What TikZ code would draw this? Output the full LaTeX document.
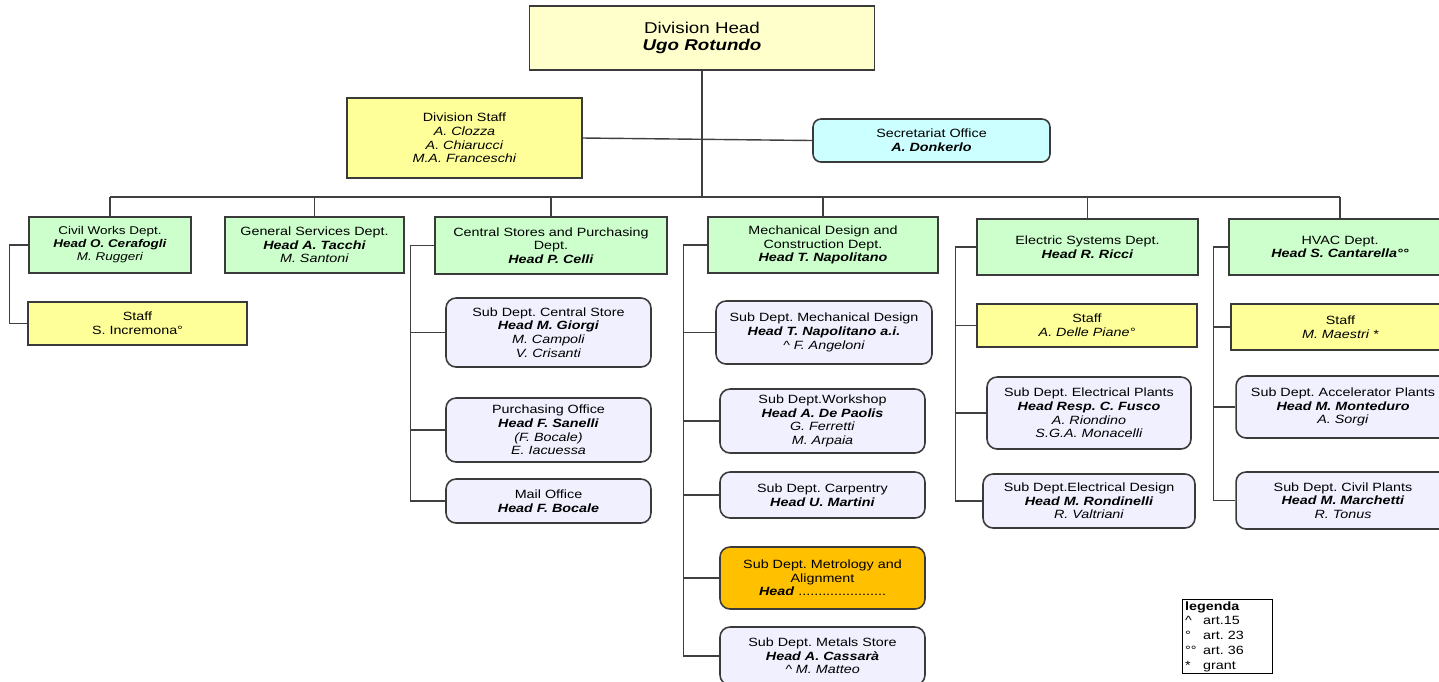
\documentclass[tikz,border=0pt]{standalone}
\usepackage{fontspec}
\setmainfont{Liberation Sans}[FakeStretch=1.2]
\frenchspacing
\definecolor{headyellow}{HTML}{FFFFCC}
\definecolor{staffyellow}{HTML}{FFFF99}
\definecolor{deptgreen}{HTML}{CCFFCC}
\definecolor{secrcyan}{HTML}{CCFFFF}
\definecolor{sublilac}{HTML}{F0F0FF}
\definecolor{metroorange}{HTML}{FFC000}
\definecolor{boxline}{HTML}{3A3A3A}
\definecolor{linegray}{HTML}{404040}
\newcommand{\headname}[1]{\textbf{\textit{#1}}}

\begin{document}
\begin{tikzpicture}[x=0.02cm, y=-0.02cm,
  box/.style={draw=boxline, line width=0.9pt, align=center, inner sep=0pt, font=\fontsize{6.8}{7.8}\selectfont},
  headbox/.style={box, fill=headyellow, font=\fontsize{8.9}{9.2}\selectfont},
  staffbox/.style={box, fill=staffyellow},
  deptbox/.style={box, fill=deptgreen},
  secrbox/.style={box, fill=secrcyan, rounded corners=0.16cm},
  subbox/.style={box, fill=sublilac, rounded corners=0.2cm},
  openbox/.style={box, fill=metroorange, rounded corners=0.2cm},
  link/.style={draw=linegray, line width=0.8pt}]
\useasboundingbox (0,0) rectangle (1439,681);
\clip (0,0) rectangle (1439,681);

% top of the division
\node[headbox, minimum width=6.9cm, minimum height=1.28cm] (head) at (702,38) {Division Head\\ \headname{Ugo Rotundo}};
\node[staffbox, minimum width=4.7cm, minimum height=1.6cm] (divstaff) at (464.5,138) {Division Staff\\ \textit{A. Clozza}\\ \textit{A. Chiarucci}\\ \textit{M.A. Franceschi}};
\node[secrbox, minimum width=4.74cm, minimum height=0.86cm] (secretariat) at (931.5,140.5) {Secretariat Office\\ \headname{A. Donkerlo}};

% departments
\node[deptbox, minimum width=3.24cm, minimum height=1.12cm, font=\fontsize{6.4}{7.4}\selectfont] (civil) at (110,245) {Civil Works Dept.\\ \headname{Head O. Cerafogli}\\ \textit{M. Ruggeri}};
\node[deptbox, minimum width=3.58cm, minimum height=1.12cm] (general) at (314.5,245) {General Services Dept.\\ \headname{Head A. Tacchi}\\ \textit{M. Santoni}};
\node[deptbox, minimum width=4.64cm, minimum height=1.14cm] (central) at (551,245.5) {Central Stores and Purchasing\\ Dept.\\ \headname{Head P. Celli}};
\node[deptbox, minimum width=4.6cm, minimum height=1.12cm] (mech) at (823,245) {Mechanical Design and\\ Construction Dept.\\ \headname{Head T. Napolitano}};
\node[deptbox, minimum width=4.42cm, minimum height=1.12cm] (electric) at (1087.5,247) {Electric Systems Dept.\\ \headname{Head R. Ricci}};
\node[deptbox, minimum width=4.44cm, minimum height=1.12cm] (hvac) at (1340,247) {HVAC Dept.\\ \headname{Head S. Cantarella°°}};

% civil works
\node[staffbox, minimum width=4.38cm, minimum height=0.86cm] (civstaff) at (137.5,323.5) {Staff\\ S. Incremona°};

% central stores and purchasing
\node[subbox, minimum width=4.1cm, minimum height=1.38cm] (centralstore) at (548.5,332.5) {Sub Dept. Central Store\\ \headname{Head M. Giorgi}\\ \textit{M. Campoli}\\ \textit{V. Crisanti}};
\node[subbox, minimum width=4.1cm, minimum height=1.28cm] (purchasing) at (548.5,430) {Purchasing Office\\ \headname{Head F. Sanelli}\\ \textit{(F. Bocale)}\\ \textit{E. Iacuessa}};
\node[subbox, minimum width=4.1cm, minimum height=0.88cm] (mail) at (548.5,501) {Mail Office\\ \headname{Head F. Bocale}};

% mechanical design and construction
\node[subbox, minimum width=4.32cm, minimum height=1.26cm] (mechdesign) at (824,332.5) {Sub Dept. Mechanical Design\\ \headname{Head T. Napolitano a.i.}\\ \textit{\textasciicircum{} F. Angeloni}};
\node[subbox, minimum width=4.1cm, minimum height=1.28cm] (workshop) at (822.5,421) {Sub Dept.Workshop\\ \headname{Head A. De Paolis}\\ \textit{G. Ferretti}\\ \textit{M. Arpaia}};
\node[subbox, minimum width=4.1cm, minimum height=0.92cm] (carpentry) at (822.5,495) {Sub Dept. Carpentry\\ \headname{Head U. Martini}};
\node[openbox, minimum width=4.1cm, minimum height=1.24cm] (metrology) at (822.5,578) {Sub Dept. Metrology and\\ Alignment\\ \headname{Head} ......................};
\node[subbox, minimum width=4.1cm, minimum height=1.16cm] (metals) at (822.5,656) {Sub Dept. Metals Store\\ \headname{Head A. Cassarà}\\ \textit{\textasciicircum{} M. Matteo}};

% electric systems
\node[staffbox, minimum width=4.4cm, minimum height=0.86cm] (elecstaff) at (1087,325.5) {Staff\\ \textit{A. Delle Piane°}};
\node[subbox, minimum width=4.08cm, minimum height=1.44cm] (elecplants) at (1089,413) {Sub Dept. Electrical Plants\\ \headname{Head Resp. C. Fusco}\\ \textit{A. Riondino}\\ \textit{S.G.A. Monacelli}};
\node[subbox, minimum width=4.24cm, minimum height=1.08cm] (elecdesign) at (1089,501) {Sub Dept.Electrical Design\\ \headname{Head M. Rondinelli}\\ \textit{R. Valtriani}};

% hvac
\node[staffbox, minimum width=4.38cm, minimum height=0.92cm] (hvacstaff) at (1340.5,327) {Staff\\ \textit{M. Maestri *}};
\node[subbox, minimum width=4.28cm, minimum height=1.24cm] (accel) at (1343,407) {Sub Dept. Accelerator Plants\\ \headname{Head M. Monteduro}\\ \textit{A. Sorgi}};
\node[subbox, minimum width=4.28cm, minimum height=1.14cm] (civilplants) at (1343,500.5) {Sub Dept. Civil Plants\\ \headname{Head M. Marchetti}\\ \textit{R. Tonus}};

% legend
\node[draw=black, line width=0.8pt, anchor=north west, text width=1.7cm, inner xsep=0.05cm, inner ysep=1pt, align=left, font=\fontsize{6.8}{8.4}\selectfont] (legend) at (1182,599) {\textbf{legenda}\\ \makebox[0.36cm][l]{\textasciicircum}art.15\\ \makebox[0.36cm][l]{°}art. 23\\ \makebox[0.36cm][l]{°°}art. 36\\ \makebox[0.36cm][l]{*}grant};

% main bus
\coordinate (busL) at (110,197);
\coordinate (busR) at (1340,197);
\draw[link] (head.south) -- (head.south |- busL);
\draw[link] (busL) -- (busR);
\foreach \d in {civil,general,central,mech,electric,hvac}
  \draw[link] (\d.north) -- (\d.north |- busL);
\draw[link] (divstaff.east) -- (secretariat.west);

% branches
\draw[link] (civil.west) -- ++(-19,0) |- (civstaff.west);
\draw[link] (central.west) -- ++(-24,0) coordinate (csbar) |- (mail.west);
\foreach \s in {centralstore,purchasing}
  \draw[link] (csbar) |- (\s.west);
\draw[link] (mech.west) -- ++(-24,0) coordinate (mdbar) |- (metals.west);
\foreach \s in {mechdesign,workshop,carpentry,metrology}
  \draw[link] (mdbar) |- (\s.west);
\draw[link] (electric.west) -- ++(-21,0) coordinate (esbar) |- (elecdesign.west);
\foreach \s in {elecstaff,elecplants}
  \draw[link] (esbar) |- (\s.west);
\draw[link] (hvac.west) -- ++(-15,0) coordinate (hvbar) |- (civilplants.west);
\foreach \s in {hvacstaff,accel}
  \draw[link] (hvbar) |- (\s.west);
\end{tikzpicture}
\end{document}
